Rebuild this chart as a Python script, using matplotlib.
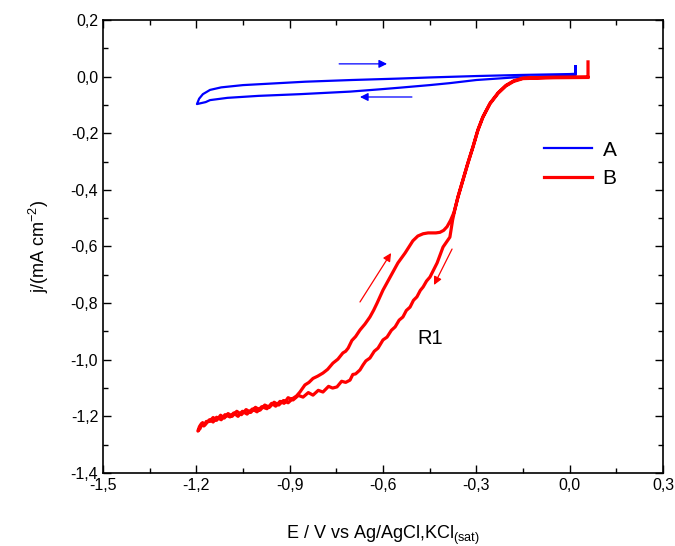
import matplotlib

matplotlib.use("Agg")
import matplotlib.pyplot as plt
from matplotlib.ticker import FuncFormatter, MultipleLocator

plt.rcParams["font.family"] = ["Liberation Sans", "DejaVu Sans"]

# curve A (blue): reverse branch (going left) then forward branch
a_x = [0.019, 0.019, 0.0, -0.05, -0.18, -0.30, -0.385, -0.45, -0.545, -0.60,
       -0.706, -0.867, -1.00, -1.10, -1.156, -1.17, -1.198,
       -1.191, -1.179, -1.156, -1.12, -1.05, -0.95, -0.85, -0.70, -0.55,
       -0.45, -0.30, -0.15, 0.0, 0.019, 0.019]
a_y = [0.037, 0.004, 0.002, 0.000, -0.003, -0.012, -0.023, -0.030, -0.039,
       -0.044, -0.053, -0.062, -0.068, -0.075, -0.083, -0.090, -0.097,
       -0.078, -0.062, -0.047, -0.038, -0.030, -0.024, -0.018, -0.012,
       -0.007, -0.003, 0.002, 0.006, 0.009, 0.010, 0.037]

# curve B (red), cathodic sweep: spike, plateau, wave, lower branch
b_down_x = [0.059, 0.059, -0.05, -0.150, -0.180, -0.205, -0.230, -0.256,
            -0.279, -0.295, -0.311, -0.327, -0.343, -0.359, -0.369, -0.376,
            -0.385, -0.407, -0.426, -0.449, -0.460, -0.471, -0.480, -0.491,
            -0.502, -0.513, -0.525, -0.536, -0.548, -0.561, -0.573, -0.587,
            -0.600, -0.616, -0.628, -0.642, -0.655, -0.664, -0.674, -0.688,
            -0.697, -0.706, -0.720, -0.733, -0.748, -0.762, -0.775, -0.793,
            -0.808, -0.825, -0.840, -0.857, -0.872, -0.889, -0.905, -0.918,
            -0.931, -0.945, -0.958, -0.973, -0.990, -1.005, -1.020, -1.037,
            -1.052, -1.066, -1.080, -1.092, -1.108, -1.120, -1.135, -1.146,
            -1.158, -1.172, -1.180, -1.188, -1.195]
b_down_y = [0.052, -0.001, -0.002, -0.005, -0.015, -0.031, -0.057, -0.094,
            -0.142, -0.188, -0.248, -0.304, -0.364, -0.424, -0.470, -0.505,
            -0.567, -0.602, -0.658, -0.708, -0.722, -0.743, -0.755, -0.778,
            -0.790, -0.814, -0.826, -0.849, -0.860, -0.884, -0.896, -0.920,
            -0.930, -0.959, -0.970, -0.994, -1.004, -1.018, -1.036, -1.050,
            -1.052, -1.072, -1.080, -1.076, -1.096, -1.100, -1.094, -1.114,
            -1.108, -1.125, -1.116, -1.132, -1.126, -1.142, -1.134, -1.154,
            -1.147, -1.164, -1.154, -1.173, -1.166, -1.184, -1.174, -1.192,
            -1.182, -1.200, -1.188, -1.202, -1.194, -1.212, -1.203, -1.220,
            -1.212, -1.230, -1.222, -1.243, -1.252]

# curve B (red), return sweep: upper branch with the shoulder, back to plateau
b_up_x = [-1.190, -1.184, -1.176, -1.168, -1.158, -1.146, -1.135, -1.122,
          -1.110, -1.098, -1.085, -1.070, -1.055, -1.040, -1.025, -1.010,
          -0.995, -0.980, -0.965, -0.950, -0.935, -0.920, -0.905, -0.889,
          -0.878, -0.867, -0.858, -0.851, -0.838, -0.825, -0.810, -0.793,
          -0.778, -0.761, -0.745, -0.729, -0.720, -0.712, -0.700, -0.688,
          -0.674, -0.658, -0.642, -0.630, -0.619, -0.600, -0.577, -0.552,
          -0.529, -0.504, -0.488, -0.471, -0.455, -0.430, -0.417, -0.405,
          -0.394, -0.383, -0.372, -0.359, -0.343, -0.327, -0.311, -0.295,
          -0.279, -0.256, -0.230, -0.205, -0.180, -0.150, -0.05, 0.059]
b_up_y = [-1.236, -1.226, -1.234, -1.218, -1.218, -1.204, -1.214, -1.196,
          -1.206, -1.190, -1.200, -1.182, -1.194, -1.176, -1.186, -1.168,
          -1.178, -1.160, -1.168, -1.150, -1.160, -1.144, -1.152, -1.136,
          -1.128, -1.114, -1.100, -1.089, -1.080, -1.066, -1.058, -1.047,
          -1.034, -1.012, -0.998, -0.976, -0.970, -0.959, -0.932, -0.918,
          -0.895, -0.874, -0.849, -0.825, -0.800, -0.754, -0.708, -0.658,
          -0.623, -0.580, -0.563, -0.555, -0.552, -0.552, -0.550, -0.543,
          -0.530, -0.508, -0.480, -0.426, -0.366, -0.306, -0.250, -0.190,
          -0.144, -0.096, -0.059, -0.033, -0.017, -0.007, -0.004, -0.003]

# scan-direction arrows: (tail x, tail y, head x, head y)
blue_arrows = [(-0.741, 0.045, -0.587, 0.045), (-0.507, -0.072, -0.674, -0.072)]
red_arrows = [(-0.674, -0.796, -0.574, -0.623), (-0.378, -0.609, -0.436, -0.736)]

fig = plt.figure(figsize=(6.75, 5.46), dpi=100)
ax = fig.add_axes([0.1526, 0.1337, 0.8296, 0.8297])

ax.plot(a_x, a_y, color="#0000ff", lw=1.6, label="A")
ax.plot(b_down_x + b_up_x, b_down_y + b_up_y, color="#ff0000", lw=2.3,
        label="B")

for x0, y0, x1, y1 in blue_arrows:
    ax.annotate("", xy=(x1, y1), xytext=(x0, y0),
                arrowprops=dict(arrowstyle="-|>", color="#0000ff", lw=0.9,
                                mutation_scale=12, shrinkA=0, shrinkB=0))
for x0, y0, x1, y1 in red_arrows:
    ax.annotate("", xy=(x1, y1), xytext=(x0, y0),
                arrowprops=dict(arrowstyle="-|>", color="#ff0000", lw=0.9,
                                mutation_scale=12, shrinkA=0, shrinkB=0))

ax.text(-0.488, -0.925, "R1", fontsize=14.5, va="center", ha="left")

ax.set_xlim(-1.5, 0.3)
ax.set_ylim(-1.4, 0.2)
ax.xaxis.set_major_locator(MultipleLocator(0.3))
ax.xaxis.set_minor_locator(MultipleLocator(0.15))
ax.yaxis.set_major_locator(MultipleLocator(0.2))
ax.yaxis.set_minor_locator(MultipleLocator(0.1))
comma = FuncFormatter(lambda v, p: f"{v:.1f}".replace(".", ",").replace("-0,0", "0,0"))
ax.xaxis.set_major_formatter(comma)
ax.yaxis.set_major_formatter(comma)
ax.tick_params(which="both", direction="in", top=True, right=True,
               labelsize=11.5, width=1.0)
ax.tick_params(which="major", length=6)
ax.tick_params(which="minor", length=3.5)
for s in ax.spines.values():
    s.set_linewidth(1.2)

ax.set_xlabel("E / V vs Ag/AgCl,KCl$_{\\mathregular{(sat)}}$", fontsize=13, labelpad=22)
ax.set_ylabel("j/(mA cm$^{\\mathregular{-2}}$)", fontsize=13, labelpad=14)

ax.legend(loc="upper left", bbox_to_anchor=(0.773, 0.752), borderaxespad=0,
          frameon=False, fontsize=15, handlelength=2.3, handletextpad=0.5,
          labelspacing=0.45)

fig.savefig("out.png", dpi=100)
